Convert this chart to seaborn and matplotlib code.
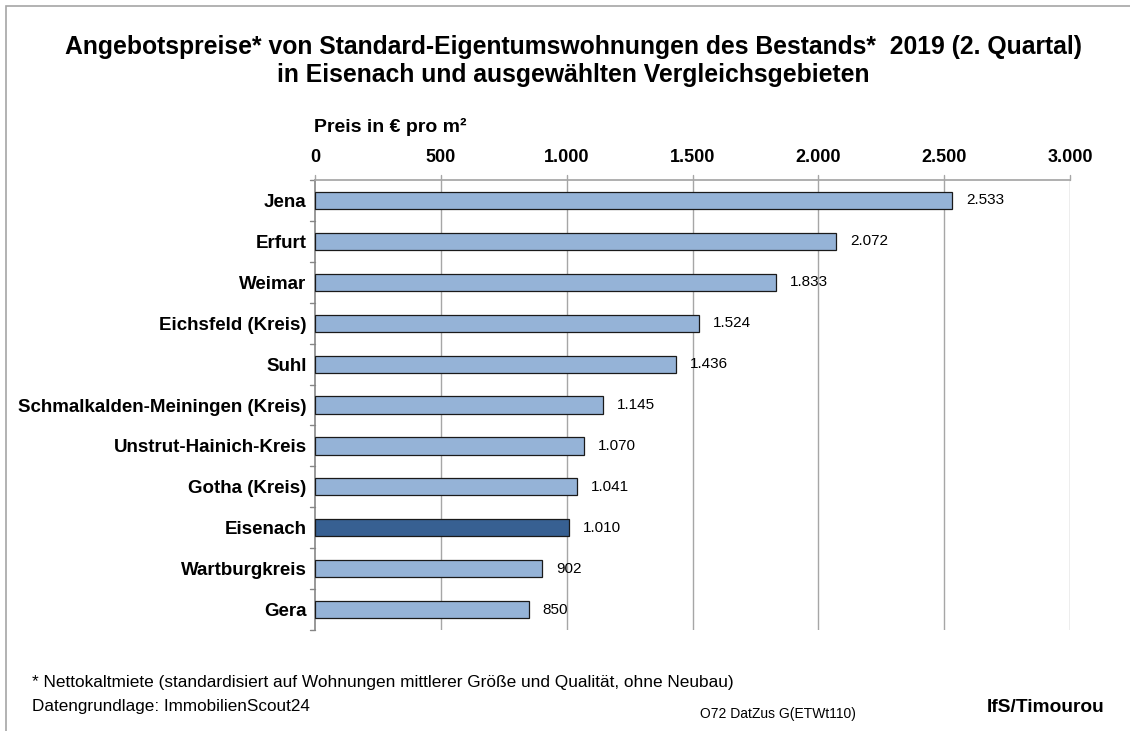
import matplotlib
matplotlib.use("Agg")
import matplotlib.pyplot as plt
import seaborn as sns
import pandas as pd
from matplotlib.patches import Rectangle

regions = ["Jena", "Erfurt", "Weimar", "Eichsfeld (Kreis)", "Suhl",
           "Schmalkalden-Meiningen (Kreis)", "Unstrut-Hainich-Kreis",
           "Gotha (Kreis)", "Eisenach", "Wartburgkreis", "Gera"]
prices = [2533, 2072, 1833, 1524, 1436, 1145, 1070, 1041, 1010, 902, 850]
highlight = "Eisenach"
xticks = [0, 500, 1000, 1500, 2000, 2500, 3000]

def de_fmt(v):
    return f"{v:,.0f}".replace(",", ".")

sns.set_theme(style="white")
plt.rcParams['font.family'] = ['Liberation Sans', 'DejaVu Sans']
plt.rcParams['text.color'] = 'black'
plt.rcParams['xtick.color'] = 'black'
plt.rcParams['ytick.color'] = 'black'

df = pd.DataFrame({"region": regions, "price": prices})
df["grp"] = ["hl" if r == highlight else "std" for r in regions]

fig = plt.figure(figsize=(11.3, 7.31), dpi=100)
ax = fig.add_axes([315/1130, 1-630/731, 755/1130, 450/731])

sns.barplot(data=df, x="price", y="region", hue="grp",
            palette={"std": "#95B3D7", "hl": "#376092"}, saturation=1,
            order=regions, dodge=False, width=0.42, legend=False,
            edgecolor="#1a1a1a", linewidth=0.9, ax=ax, zorder=3)

ax.set_xlim(0, 3000)
ax.set_ylim(len(regions) - 0.5, -0.5)
ax.set_xticks(xticks)
ax.set_xticklabels([de_fmt(t) for t in xticks], fontsize=13, fontweight="bold")
ax.xaxis.tick_top()
ax.tick_params(axis="x", length=0, pad=10)
ax.set_yticks(range(len(regions)))
ax.set_yticklabels(regions, fontsize=13.5, fontweight="bold")
ax.tick_params(axis="y", length=0, pad=6)
ax.set_xlabel("")
ax.set_ylabel("")
for t in xticks[1:]:
    ax.axvline(t, color="#A6A6A6", lw=1, zorder=1)
# category boundary ticks on left spine
for b in [i - 0.5 for i in range(len(regions) + 1)]:
    ax.plot([-0.007, 0], [b, b], transform=ax.get_yaxis_transform(),
            color="#868686", lw=1, clip_on=False)
for t in xticks:
    ax.plot([t, t], [1, 1.012], transform=ax.get_xaxis_transform(),
            color="#A6A6A6", lw=1, clip_on=False)
for s in ["right", "bottom"]:
    ax.spines[s].set_visible(False)
ax.spines["top"].set_color("#A6A6A6")
ax.spines["left"].set_color("#868686")
ax.spines["left"].set_linewidth(1.2)

for i, v in enumerate(prices):
    ax.annotate(de_fmt(v), (v, i), xytext=(10, 0), textcoords="offset points",
                va="center", ha="left", fontsize=11)

fig.text(573/1130, 1-47/731, "Angebotspreise* von Standard-Eigentumswohnungen des Bestands*  2019 (2. Quartal)",
         ha="center", va="center", fontsize=17.8, fontweight="bold")
fig.text(573/1130, 1-75/731, "in Eisenach und ausgewählten Vergleichsgebieten",
         ha="center", va="center", fontsize=17.8, fontweight="bold")
fig.text(314/1130, 1-127/731, "Preis in € pro m²", ha="left", va="center",
         fontsize=14, fontweight="bold")
fig.text(32/1130, 1-682/731, "* Nettokaltmiete (standardisiert auf Wohnungen mittlerer Größe und Qualität, ohne Neubau)",
         ha="left", va="center", fontsize=12.4)
fig.text(32/1130, 1-706/731, "Datengrundlage: ImmobilienScout24", ha="left", va="center", fontsize=12.3)
fig.text(700/1130, 1-714/731, "O72 DatZus G(ETWt110)", ha="left", va="center", fontsize=10)
fig.text(1105/1130, 1-707/731, "IfS/Timourou", ha="right", va="center", fontsize=13.8, fontweight="bold")

fig.patches.append(Rectangle((6/1130, -0.05), 1.2, 1 - 6/731 + 0.05, transform=fig.transFigure,
                             fill=False, edgecolor="#A6A6A6", lw=1.2))

fig.savefig("out.png", dpi=100)
